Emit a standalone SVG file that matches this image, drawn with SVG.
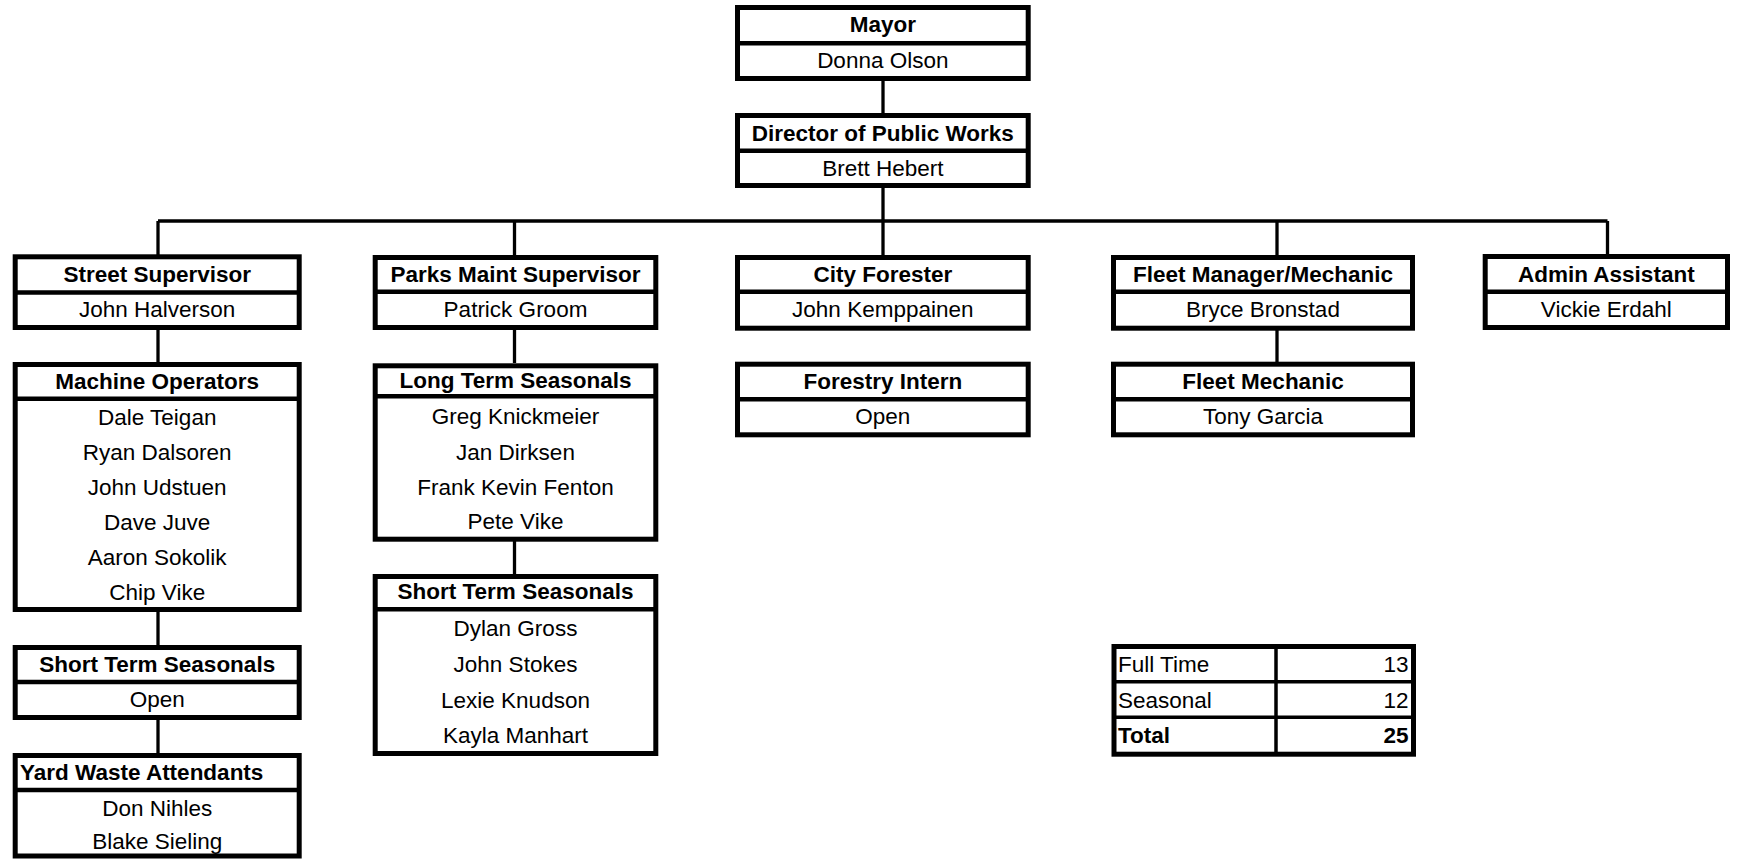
<svg xmlns="http://www.w3.org/2000/svg" width="1737" height="859" viewBox="0 0 1737 859">
<style>
.box{fill:#fff;stroke:#000;stroke-width:5}
.div{stroke:#000;stroke-width:4.5}
.tdiv{stroke:#000;stroke-width:3.5}
.con{stroke:#000;stroke-width:3.3;fill:none}
text{font-family:"Liberation Sans",Arial,sans-serif;font-size:22.5px;fill:#000}
.h{font-weight:bold;text-anchor:middle}
.n{text-anchor:middle}
</style>
<rect width="1737" height="859" fill="#fff"/>
<g id="connectors">
<line class="con" x1="883" y1="81" x2="883" y2="113"/>
<line class="con" x1="883" y1="188" x2="883" y2="221"/>
<line class="con" x1="158" y1="221" x2="1607.5" y2="221"/>
<line class="con" x1="158" y1="221" x2="158" y2="255"/>
<line class="con" x1="514.5" y1="221" x2="514.5" y2="255"/>
<line class="con" x1="883" y1="221" x2="883" y2="255"/>
<line class="con" x1="1277" y1="221" x2="1277" y2="255"/>
<line class="con" x1="1607.5" y1="221" x2="1607.5" y2="255"/>
<line class="con" x1="158" y1="330" x2="158" y2="362"/>
<line class="con" x1="158" y1="612" x2="158" y2="645"/>
<line class="con" x1="158" y1="720" x2="158" y2="753"/>
<line class="con" x1="514.5" y1="330" x2="514.5" y2="363"/>
<line class="con" x1="514.5" y1="541" x2="514.5" y2="574"/>
<line class="con" x1="1277" y1="330" x2="1277" y2="362"/>
</g>
<g id="mayor">
<rect class="box" x="737.5" y="7.5" width="290.7" height="71"/>
<line class="div" x1="737.5" y1="43.3" x2="1028.2" y2="43.3"/>
<text class="h" x="882.8" y="32.3">Mayor</text>
<text class="n" x="882.8" y="68.3">Donna Olson</text>
</g>
<g id="director">
<rect class="box" x="737.5" y="115.5" width="290.7" height="70"/>
<line class="div" x1="737.5" y1="150.8" x2="1028.2" y2="150.8"/>
<text class="h" x="882.8" y="140.5">Director of Public Works</text>
<text class="n" x="882.8" y="176">Brett Hebert</text>
</g>
<g id="street-supervisor">
<rect class="box" x="15.2" y="256.8" width="284" height="70.7"/>
<line class="div" x1="15.2" y1="292.5" x2="299.2" y2="292.5"/>
<text class="h" x="157.2" y="282">Street Supervisor</text>
<text class="n" x="157.2" y="317.3">John Halverson</text>
</g>
<g id="machine-operators">
<rect class="box" x="15.2" y="364.5" width="284" height="245"/>
<line class="div" x1="15.2" y1="398.8" x2="299.2" y2="398.8"/>
<text class="h" x="157.2" y="388.8">Machine Operators</text>
<text class="n" x="157.2" y="425">Dale Teigan</text>
<text class="n" x="157.2" y="460">Ryan Dalsoren</text>
<text class="n" x="157.2" y="495">John Udstuen</text>
<text class="n" x="157.2" y="529.5">Dave Juve</text>
<text class="n" x="157.2" y="564.5">Aaron Sokolik</text>
<text class="n" x="157.2" y="599.5">Chip Vike</text>
</g>
<g id="short-term-seasonals-street">
<rect class="box" x="15.2" y="647.5" width="284" height="70"/>
<line class="div" x1="15.2" y1="682" x2="299.2" y2="682"/>
<text class="h" x="157.2" y="671.5">Short Term Seasonals</text>
<text class="n" x="157.2" y="707.3">Open</text>
</g>
<g id="yard-waste-attendants">
<rect class="box" x="15.2" y="755.5" width="284" height="100.5"/>
<line class="div" x1="15.2" y1="790" x2="299.2" y2="790"/>
<text x="20" y="780" font-weight="bold">Yard Waste Attendants</text>
<text class="n" x="157.2" y="815.7">Don Nihles</text>
<text class="n" x="157.2" y="849.3">Blake Sieling</text>
</g>
<g id="parks-maint-supervisor">
<rect class="box" x="375.2" y="257.5" width="280.6" height="70"/>
<line class="div" x1="375.2" y1="291.7" x2="655.8" y2="291.7"/>
<text class="h" x="515.5" y="281.7">Parks Maint Supervisor</text>
<text class="n" x="515.5" y="317.3">Patrick Groom</text>
</g>
<g id="long-term-seasonals">
<rect class="box" x="375.2" y="365.8" width="280.6" height="173.4"/>
<line class="div" x1="375.2" y1="396.2" x2="655.8" y2="396.2"/>
<text class="h" x="515.5" y="388.3">Long Term Seasonals</text>
<text class="n" x="515.5" y="424">Greg Knickmeier</text>
<text class="n" x="515.5" y="460">Jan Dirksen</text>
<text class="n" x="515.5" y="495">Frank Kevin Fenton</text>
<text class="n" x="515.5" y="528.5">Pete Vike</text>
</g>
<g id="short-term-seasonals-parks">
<rect class="box" x="375.2" y="576.5" width="280.6" height="177"/>
<line class="div" x1="375.2" y1="609.3" x2="655.8" y2="609.3"/>
<text class="h" x="515.5" y="599.3">Short Term Seasonals</text>
<text class="n" x="515.5" y="636">Dylan Gross</text>
<text class="n" x="515.5" y="671.6">John Stokes</text>
<text class="n" x="515.5" y="707.5">Lexie Knudson</text>
<text class="n" x="515.5" y="743">Kayla Manhart</text>
</g>
<g id="city-forester">
<rect class="box" x="737.5" y="257.5" width="290.7" height="70.7"/>
<line class="div" x1="737.5" y1="291.7" x2="1028.2" y2="291.7"/>
<text class="h" x="882.8" y="282">City Forester</text>
<text class="n" x="882.8" y="317.3">John Kemppainen</text>
</g>
<g id="forestry-intern">
<rect class="box" x="737.5" y="364.2" width="290.7" height="70.6"/>
<line class="div" x1="737.5" y1="399.3" x2="1028.2" y2="399.3"/>
<text class="h" x="882.8" y="388.5">Forestry Intern</text>
<text class="n" x="882.8" y="424.3">Open</text>
</g>
<g id="fleet-manager">
<rect class="box" x="1113.5" y="257.5" width="299" height="70.7"/>
<line class="div" x1="1113.5" y1="291.7" x2="1412.5" y2="291.7"/>
<text class="h" x="1263" y="282">Fleet Manager/Mechanic</text>
<text class="n" x="1263" y="317.3">Bryce Bronstad</text>
</g>
<g id="fleet-mechanic">
<rect class="box" x="1113.5" y="364.2" width="299" height="70.6"/>
<line class="div" x1="1113.5" y1="399.3" x2="1412.5" y2="399.3"/>
<text class="h" x="1263" y="388.5">Fleet Mechanic</text>
<text class="n" x="1263" y="424.3">Tony Garcia</text>
</g>
<g id="admin-assistant">
<rect class="box" x="1485.2" y="256.5" width="242.3" height="71"/>
<line class="div" x1="1485.2" y1="291.7" x2="1727.5" y2="291.7"/>
<text class="h" x="1606.3" y="281.5">Admin Assistant</text>
<text class="n" x="1606.3" y="317.3">Vickie Erdahl</text>
</g>
<g id="totals-table">
<rect class="box" x="1114" y="646.5" width="299.5" height="107.7"/>
<line class="tdiv" x1="1276" y1="646.5" x2="1276" y2="754.2"/>
<line class="tdiv" x1="1114" y1="681.7" x2="1413.5" y2="681.7"/>
<line class="tdiv" x1="1114" y1="717.3" x2="1413.5" y2="717.3"/>
<text x="1118" y="671.7">Full Time</text>
<text x="1408.5" y="671.7" text-anchor="end">13</text>
<text x="1118" y="707.5">Seasonal</text>
<text x="1408.5" y="707.5" text-anchor="end">12</text>
<text x="1118" y="743.3" font-weight="bold">Total</text>
<text x="1408.5" y="743.3" text-anchor="end" font-weight="bold">25</text>
</g>
</svg>
